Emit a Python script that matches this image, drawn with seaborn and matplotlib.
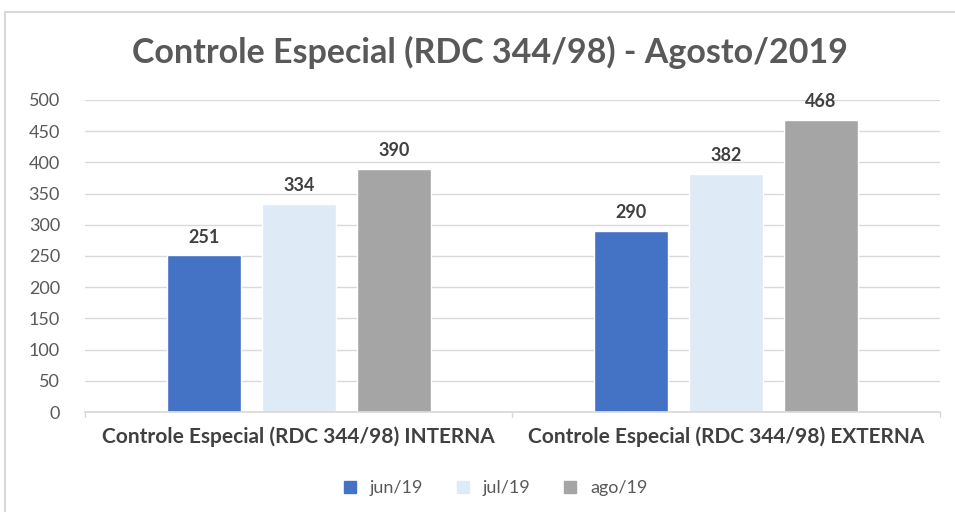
import pandas as pd
import matplotlib.pyplot as plt
import seaborn as sns
from matplotlib.lines import Line2D

# Chart data
categories = ["Controle Especial (RDC 344/98) INTERNA", "Controle Especial (RDC 344/98) EXTERNA"]
months = ["jun/19", "jul/19", "ago/19"]
jun_values = [251, 290]
jul_values = [334, 382]
ago_values = [390, 468]
month_colors = ["#4472C4", "#DEEBF7", "#A5A5A5"]

df = pd.DataFrame({
    "categoria": categories * 3,
    "mes": [m for m in months for _ in categories],
    "valor": jun_values + jul_values + ago_values,
})

sns.set_theme(style="white")
plt.rcParams["font.family"] = ["Lato", "DejaVu Sans"]

fig = plt.figure(figsize=(9.55, 5.12), dpi=100)
ax = fig.add_axes([0.089, 0.195, 0.895, 0.61])

sns.barplot(data=df, x="categoria", y="valor", hue="mes", palette=month_colors,
            width=0.667, gap=0.22, ax=ax, legend=False, saturation=1)

# value labels
for cont in ax.containers:
    ax.bar_label(cont, padding=7, fontsize=13, fontweight="bold", color="#404040")

ax.set_ylim(0, 500)
ax.set_xlim(-0.5, 1.5)
ax.set_yticks(range(0, 501, 50))
ax.yaxis.grid(True, color="#D9D9D9", linewidth=1)
ax.set_axisbelow(True)
for s in ["top", "right", "left"]:
    ax.spines[s].set_visible(False)
ax.spines["bottom"].set_color("#D9D9D9")
ax.set_xlabel("")
ax.set_ylabel("")
ax.tick_params(axis="y", labelsize=13, labelcolor="#595959", length=0, pad=18)
ax.tick_params(axis="x", labelsize=15, labelcolor="#404040", length=0, pad=10)
for t in ax.get_xticklabels():
    t.set_fontweight("bold")

# group separator ticks on x axis
for xv in [-0.5, 0.5, 1.5]:
    ax.plot([xv, xv], [0, -8], color="#D9D9D9", linewidth=1, clip_on=False)

fig.text(0.513, 0.897, "Controle Especial (RDC 344/98) - Agosto/2019", ha="center", va="center",
         fontsize=24.5, fontweight="bold", color="#595959")

handles = [Line2D([0], [0], marker="s", linestyle="", markersize=9,
                  markerfacecolor=c, markeredgecolor=c) for c in month_colors]
fig.legend(handles, months, loc="center", bbox_to_anchor=(0.513, 0.047), ncol=3,
           frameon=False, fontsize=13, labelcolor="#595959", handletextpad=0.1,
           columnspacing=1.2)

# chart frame
fig.add_artist(Line2D([5 / 955, 5 / 955], [0, 1 - 12 / 512], color="#D9D9D9", linewidth=1.5))
fig.add_artist(Line2D([5 / 955, 1], [1 - 12 / 512, 1 - 12 / 512], color="#D9D9D9", linewidth=1.5))

fig.savefig("out.png", dpi=100)
